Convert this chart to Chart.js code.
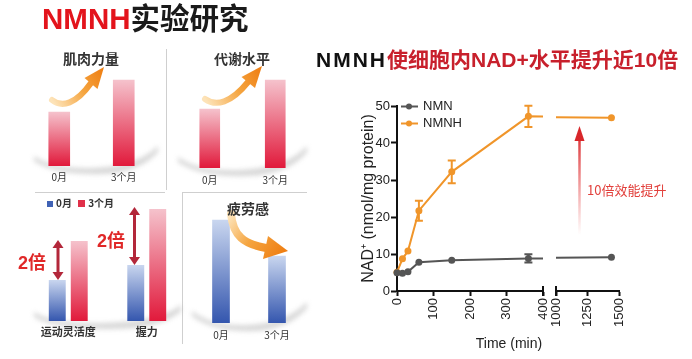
<!DOCTYPE html>
<html lang="zh">
<head>
<meta charset="UTF-8" />
<meta name="viewport" content="width=device-width, initial-scale=1.0" />
<title>NMNH实验研究</title>
<script src="https://cdn.jsdelivr.net/npm/chart.js"></script>
<style>
  html, body { margin: 0; padding: 0; background: #fff; }
  #page { position: relative; width: 692px; height: 359px; overflow: hidden; font-family: 'Noto Sans CJK SC', sans-serif; }
  canvas { position: absolute; z-index: 1; }
  svg { position: absolute; left: 0; top: 0; }
  #under { z-index: 0; }
  #over { z-index: 2; }
  .txt { position: absolute; z-index: 3; white-space: nowrap; line-height: 1; }
  .c { transform: translate(-50%, -50%); }
  .l { transform: translate(0, -50%); }
  .lat { font-family: 'Liberation Sans', Arial, sans-serif; }
  .narrow { font-family: 'Liberation Sans Narrow', 'Liberation Sans', Arial, sans-serif; }
</style>
</head>
<body>
<div id="page">
  <svg id="under" width="692" height="359">
    <defs>
      <filter id="blur"><feGaussianBlur stdDeviation="2.5" /></filter>
    </defs>
    <g stroke="#cfcfcf" stroke-width="1">
      <line x1="166.5" y1="49" x2="166.5" y2="190" />
      <line x1="35" y1="192.5" x2="165" y2="192.5" />
      <line x1="183" y1="192.5" x2="307" y2="192.5" />
      <line x1="182.5" y1="192" x2="182.5" y2="344" />
    </g>
    <g id="shadows" fill="#b5b5b5" opacity="0.55" filter="url(#blur)"></g>
  </svg>

  <canvas id="p1" width="129" height="120" style="left:27px;top:66px"></canvas>
  <canvas id="p2" width="131" height="120" style="left:177px;top:68px"></canvas>
  <canvas id="p3" width="157" height="140" style="left:29px;top:201px"></canvas>
  <canvas id="p4" width="112" height="130" style="left:193px;top:213px"></canvas>
  <canvas id="nadLeft" width="208" height="264" style="left:340px;top:95px"></canvas>
  <canvas id="nadRight" width="80" height="264" style="left:550px;top:95px"></canvas>

  <svg id="over" width="692" height="359">
    <defs>
      <linearGradient id="og1" x1="52" y1="100" x2="104" y2="67" gradientUnits="userSpaceOnUse">
        <stop offset="0" stop-color="#fde3b8" />
        <stop offset="0.5" stop-color="#f5a540" />
        <stop offset="1" stop-color="#ee7c10" />
      </linearGradient>
      <linearGradient id="og2" x1="205" y1="99" x2="262" y2="66" gradientUnits="userSpaceOnUse">
        <stop offset="0" stop-color="#fde3b8" />
        <stop offset="0.5" stop-color="#f5a540" />
        <stop offset="1" stop-color="#ee7c10" />
      </linearGradient>
      <linearGradient id="og3" x1="232" y1="213" x2="287" y2="252" gradientUnits="userSpaceOnUse">
        <stop offset="0" stop-color="#fde3b8" />
        <stop offset="0.45" stop-color="#f5a540" />
        <stop offset="1" stop-color="#ee7c10" />
      </linearGradient>
      <linearGradient id="rg" x1="0" y1="235" x2="0" y2="130" gradientUnits="userSpaceOnUse">
        <stop offset="0" stop-color="#e83a3a" stop-opacity="0" />
        <stop offset="1" stop-color="#d8262a" />
      </linearGradient>
    </defs>
    <!-- 肌肉力量 arrow -->
    <path d="M52,100 C62,108 76,104 91,83" fill="none" stroke="url(#og1)" stroke-width="6" stroke-linecap="round" />
    <polygon points="104,67 97.5,89 84.5,78" fill="url(#og1)" />
    <!-- 代谢水平 arrow -->
    <path d="M205,99 C216,107 231,103 248,82" fill="none" stroke="url(#og2)" stroke-width="6" stroke-linecap="round" />
    <polygon points="262,66 255,88 241.5,77" fill="url(#og2)" />
    <!-- 疲劳感 arrow -->
    <path d="M231,214 C233,236 244,244 266,248" fill="none" stroke="url(#og3)" stroke-width="8" stroke-linecap="round" />
    <polygon points="288,251 268,236 263,259" fill="url(#og3)" />
    <!-- 2倍 double arrows -->
    <g stroke="#b3273a" stroke-width="3" fill="#b3273a">
      <line x1="58" y1="247" x2="58" y2="273" />
      <line x1="134.5" y1="214" x2="134.5" y2="258" />
    </g>
    <g fill="#b3273a">
      <polygon points="58,240 52.5,248 63.5,248" />
      <polygon points="58,280 52.5,272 63.5,272" />
      <polygon points="134.5,207 129,215 140,215" />
      <polygon points="134.5,265 129,257 140,257" />
    </g>
    <!-- 10倍 annotation arrow -->
    <line x1="579.5" y1="236" x2="579.5" y2="140" stroke="url(#rg)" stroke-width="2.5" />
    <polygon points="579.5,126 574.5,141 584.5,141" fill="#d8262a" />
  </svg>

  <div class="txt l" style="left:42px;top:18px;font-size:29.5px;font-weight:bold;color:#1a1a1a;"><span class="lat" style="color:#e3141c">NMNH</span>实验研究</div>

  <div class="txt c" style="left:91px;top:58px;font-size:14px;font-weight:bold;color:#333;">肌肉力量</div>
  <div class="txt c" style="left:242px;top:58px;font-size:14px;font-weight:bold;color:#333;">代谢水平</div>
  <div class="txt c" style="left:248px;top:208px;font-size:14px;font-weight:bold;color:#333;">疲劳感</div>

  <div class="txt l" style="left:47px;top:203px;font-size:10px;font-weight:bold;color:#333;">
    <span style="display:inline-block;width:6px;height:6px;background:#3f62b5;margin-right:3px"></span>0月
    <span style="display:inline-block;width:7px;height:7px;background:#e0304a;margin:0 3px 0 4px"></span>3个月
  </div>
  <div class="txt l" style="left:18px;top:262px;font-size:18px;font-weight:bold;color:#e02828;"><span class="lat">2</span>倍</div>
  <div class="txt l" style="left:97px;top:240px;font-size:18px;font-weight:bold;color:#e02828;"><span class="lat">2</span>倍</div>

  <div class="txt l" style="left:316px;top:59px;font-size:21px;font-weight:bold;color:#c8202c;"><span class="lat" style="color:#111;letter-spacing:2px">NMNH</span>使细胞内<span class="lat">NAD+</span>水平提升近<span class="lat">10</span>倍</div>

  <div class="txt l" style="left:587px;top:189px;font-size:13px;color:#e2403c;">10倍效能提升</div>
  <div class="txt c narrow" style="left:509px;top:343px;font-size:14px;color:#222;">Time (min)</div>
</div>

<script>
  // left panels (relative bar heights)
  const monthLabels = ['0月', '3个月'];
  const muscleValues = [54, 86];
  const metabolismValues = [59, 88];
  const abilityLabels = ['运动灵活度', '握力'];
  const ability0 = [41, 56];
  const ability3 = [80, 112];
  const fatigueValues = [103, 67];

  // NAD+ time course
  const timeMin = [0, 15, 30, 60, 150, 360, 1440];
  const nmnValues = [4.9, 4.8, 5.2, 7.8, 8.3, 8.8, 9.1];
  const nmnErrors = [0, 0, 0, 0, 0, 1.1, 0];
  const nmnhValues = [5.1, 8.7, 10.8, 21.7, 32.2, 47.2, 46.8];
  const nmnhErrors = [0, 0, 0, 2.7, 3.1, 2.9, 0];
  const nadTicks = [0, 10, 20, 30, 40, 50];
  const timeTicksLeft = [0, 100, 200, 300, 400];
  const timeTicksRight = [1000, 1250, 1500];

  const RED = ['#f5c2cc', '#e1193b'];
  const BLUE = ['#c9d6ef', '#3456ae'];
  const NMN_COLOR = '#555555';
  const NMNH_COLOR = '#f0952a';

  function barGradient(colors) {
    return function (ctx) {
      const chart = ctx.chart;
      const y = chart.scales.y;
      if (!y || !chart.chartArea || ctx.raw == null) return colors[1];
      const top = y.getPixelForValue(ctx.raw);
      const bottom = y.getPixelForValue(0);
      if (!isFinite(top) || !isFinite(bottom)) return colors[1];
      const g = chart.ctx.createLinearGradient(0, top, 0, bottom);
      g.addColorStop(0, colors[0]);
      g.addColorStop(1, colors[1]);
      return g;
    };
  }

  function panelChart(id, labels, datasets, yMax, tickFont, tickPad) {
    return new Chart(document.getElementById(id), {
      type: 'bar',
      data: { labels: labels, datasets: datasets },
      options: {
        responsive: false,
        animation: false,
        layout: { padding: 0 },
        plugins: { legend: { display: false }, tooltip: { enabled: false } },
        scales: {
          x: {
            grid: { display: false, drawTicks: false },
            border: { display: false },
            ticks: { font: tickFont, color: '#333', padding: tickPad },
            afterFit: s => { s.height = 20; }
          },
          y: { display: false, min: 0, max: yMax }
        }
      }
    });
  }

  const cjkFont = { family: "'Noto Sans CJK SC', sans-serif", size: 10 };

  panelChart('p1', monthLabels, [{ data: muscleValues, backgroundColor: barGradient(RED), barThickness: 21 }], 100, cjkFont, 5);
  panelChart('p2', monthLabels, [{ data: metabolismValues, backgroundColor: barGradient(RED), barThickness: 20 }], 100, cjkFont, 6);
  panelChart('p3', abilityLabels, [
    { label: '0月', data: ability0, backgroundColor: barGradient(BLUE), categoryPercentage: 0.56, barPercentage: 0.77 },
    { label: '3个月', data: ability3, backgroundColor: barGradient(RED), categoryPercentage: 0.56, barPercentage: 0.77 }
  ], 120, { family: "'Noto Sans CJK SC', sans-serif", size: 11, weight: 'bold' }, 4);
  panelChart('p4', monthLabels, [{ data: fatigueValues, backgroundColor: barGradient(BLUE), barThickness: 17 }], 110, cjkFont, 6);

  // soft grey shadows under the bars
  const shadowSpecs = [
    [34, 156, 158, 146, 168],
    [178, 157, 307, 146, 170],
    [34, 312, 181, 305, 323],
    [192, 311, 307, 302, 325]
  ];
  const sg = document.getElementById('shadows');
  shadowSpecs.forEach(([x1, y1, x2, y2, yb]) => {
    const xm = (x1 + x2) / 2;
    const d = `M${x1},${y1} Q${x1 + 20},${yb + 2} ${xm},${yb} Q${x2 - 20},${yb - 2} ${x2},${y2} ` +
      `L${x2},${y2 + 6} Q${x2 - 20},${yb + 6} ${xm},${yb + 6} Q${x1 + 20},${yb + 6} ${x1},${y1 + 5} Z`;
    const p = document.createElementNS('http://www.w3.org/2000/svg', 'path');
    p.setAttribute('d', d);
    sg.appendChild(p);
  });

  const latin = "'Liberation Sans Narrow', 'Liberation Sans', Arial, sans-serif";

  const errorBars = {
    id: 'errorBars',
    beforeDatasetsDraw(chart) {
      const { ctx, chartArea: a, scales: { x, y } } = chart;
      ctx.save();
      ctx.beginPath();
      ctx.rect(a.left - 6, a.top - 6, a.right - a.left + 6, a.bottom - a.top + 12);
      ctx.clip();
      chart.data.datasets.forEach(ds => {
        if (!ds.errors) return;
        ctx.strokeStyle = ds.borderColor;
        ctx.lineWidth = 2;
        ds.data.forEach((p, i) => {
          const e = ds.errors[i];
          if (!e) return;
          const px = x.getPixelForValue(p.x);
          const yt = y.getPixelForValue(p.y + e);
          const yb = y.getPixelForValue(p.y - e);
          ctx.beginPath();
          ctx.moveTo(px, yt); ctx.lineTo(px, yb);
          ctx.moveTo(px - 4, yt); ctx.lineTo(px + 4, yt);
          ctx.moveTo(px - 4, yb); ctx.lineTo(px + 4, yb);
          ctx.stroke();
        });
      });
      ctx.restore();
    }
  };

  const breakMark = {
    id: 'breakMark',
    afterDraw(chart, args, opts) {
      const { ctx, chartArea: a } = chart;
      const px = opts.side === 'right' ? a.right : a.left;
      ctx.save();
      ctx.strokeStyle = '#111';
      ctx.lineWidth = 2;
      ctx.beginPath();
      ctx.moveTo(px, a.bottom - 5);
      ctx.lineTo(px, a.bottom + 5);
      ctx.stroke();
      ctx.restore();
    }
  };

  const insideLegend = {
    id: 'insideLegend',
    afterDraw(chart) {
      const { ctx, chartArea: a } = chart;
      ctx.save();
      ctx.font = '13px ' + latin;
      ctx.textBaseline = 'middle';
      chart.data.datasets.forEach((ds, i) => {
        const yy = a.top + 0.5 + i * 17;
        ctx.strokeStyle = ds.borderColor;
        ctx.fillStyle = ds.borderColor;
        ctx.lineWidth = 2;
        ctx.beginPath();
        ctx.moveTo(a.left + 4, yy);
        ctx.lineTo(a.left + 21, yy);
        ctx.stroke();
        ctx.beginPath();
        ctx.arc(a.left + 12, yy, 3, 0, Math.PI * 2);
        ctx.fill();
        ctx.fillStyle = '#222';
        ctx.fillText(ds.label, a.left + 26, yy);
      });
      ctx.restore();
    }
  };

  function nadDatasets(clip) {
    return [
      {
        label: 'NMN', data: timeMin.map((t, i) => ({ x: t, y: nmnValues[i] })), errors: nmnErrors,
        borderColor: NMN_COLOR, backgroundColor: NMN_COLOR, pointBackgroundColor: NMN_COLOR,
        borderWidth: 2, pointRadius: 3.5, pointBorderWidth: 0, tension: 0, clip: clip
      },
      {
        label: 'NMNH', data: timeMin.map((t, i) => ({ x: t, y: nmnhValues[i] })), errors: nmnhErrors,
        borderColor: NMNH_COLOR, backgroundColor: NMNH_COLOR, pointBackgroundColor: NMNH_COLOR,
        borderWidth: 2, pointRadius: 3.5, pointBorderWidth: 0, tension: 0, clip: clip
      }
    ];
  }

  function timeAxis(min, max, ticks) {
    return {
      type: 'linear', min: min, max: max,
      afterBuildTicks: s => { s.ticks = ticks.map(v => ({ value: v })); },
      afterFit: s => { s.height = 68; s.paddingLeft = 0; s.paddingRight = 0; },
      ticks: {
        font: { family: latin, size: 13 }, color: '#222', padding: 2,
        minRotation: 90, maxRotation: 90, autoSkip: false,
        callback: v => String(v)
      },
      grid: { drawOnChartArea: false, tickLength: 5, tickWidth: 2, tickColor: '#111' },
      border: { width: 2, color: '#111' }
    };
  }

  new Chart(document.getElementById('nadLeft'), {
    type: 'line',
    data: { datasets: nadDatasets({ left: 6, top: 6, right: 0, bottom: 6 }) },
    options: {
      responsive: false, animation: false,
      layout: { padding: { top: 11, right: 5, left: 0, bottom: 0 } },
      plugins: { legend: { display: false }, tooltip: { enabled: false }, breakMark: { side: 'right' } },
      scales: {
        x: timeAxis(0, 400, timeTicksLeft),
        y: {
          min: 0, max: 50,
          afterBuildTicks: s => { s.ticks = nadTicks.map(v => ({ value: v })); },
          afterFit: s => { s.width = 57; },
          ticks: { font: { family: latin, size: 13 }, color: '#222', padding: 1 },
          grid: { drawOnChartArea: false, tickLength: 6, tickWidth: 2, tickColor: '#111' },
          border: { width: 2, color: '#111' },
          title: { display: true, text: 'NAD⁺ (nmol/mg protein)', font: { family: latin, size: 16 }, color: '#222', padding: { top: 19, bottom: 0 } }
        }
      }
    },
    plugins: [errorBars, breakMark, insideLegend]
  });

  new Chart(document.getElementById('nadRight'), {
    type: 'line',
    data: { datasets: nadDatasets({ left: 0, top: 6, right: 8, bottom: 6 }) },
    options: {
      responsive: false, animation: false,
      layout: { padding: { top: 11, right: 11, left: 6, bottom: 0 } },
      plugins: { legend: { display: false }, tooltip: { enabled: false }, breakMark: { side: 'left' } },
      scales: {
        x: timeAxis(1000, 1500, timeTicksRight),
        y: { display: false, min: 0, max: 50 }
      }
    },
    plugins: [errorBars, breakMark]
  });
</script>
</body>
</html>
